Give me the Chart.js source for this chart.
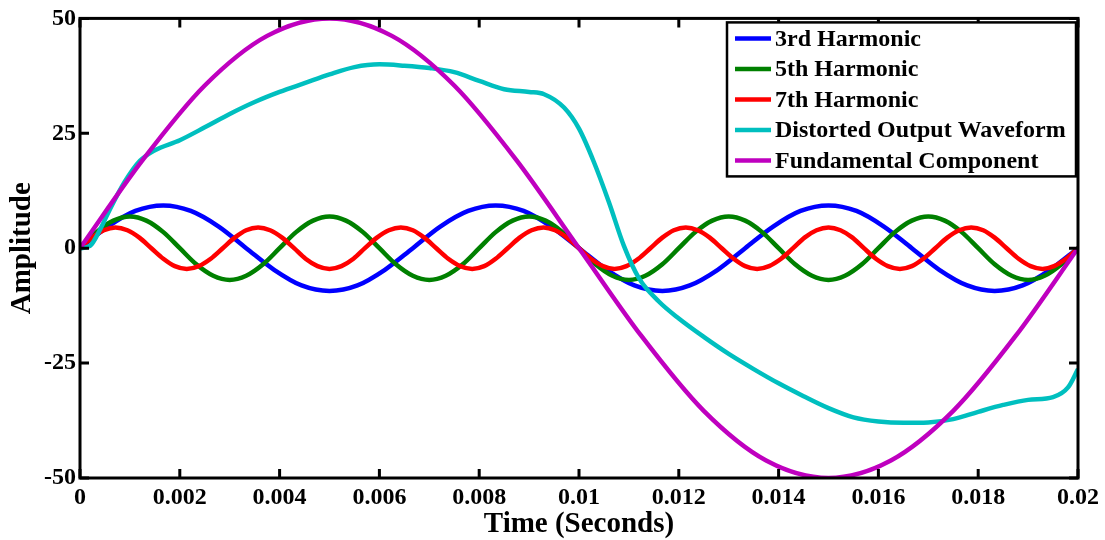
<!DOCTYPE html>
<html>
<head>
<meta charset="utf-8">
<script src="https://cdn.jsdelivr.net/npm/chart.js@4.4.1/dist/chart.umd.min.js"></script>
<style>
  body { margin: 0; background: #fff; }
  #wave { display: block; }
</style>
</head>
<body>
<canvas id="wave" width="1105" height="540"></canvas>
<script>
// values
const xTicks = [0, 0.002, 0.004, 0.006, 0.008, 0.01, 0.012, 0.014, 0.016, 0.018, 0.02];
const xTickLabels = ['0', '0.002', '0.004', '0.006', '0.008', '0.01', '0.012', '0.014', '0.016', '0.018', '0.02'];
const yTicks = [-50, -25, 0, 25, 50];
const yTickLabels = ['-50', '-25', '0', '25', '50'];

const t3 = [0,0.00056,0.00111,0.00167,0.00222,0.00278,0.00333,0.00389,0.00444,0.005,0.00556,0.00611,
  0.00667,0.00722,0.00778,0.00833,0.00889,0.00944,0.01,0.01056,0.01111,0.01167,0.01222,0.01278,
  0.01333,0.01389,0.01444,0.015,0.01556,0.01611,0.01667,0.01722,0.01778,0.01833,0.01889,0.01944,0.02];
const h3 = [0,4.7,8.1,9.3,8.1,4.7,0,-4.7,-8.1,-9.3,-8.1,-4.7,
  0,4.7,8.1,9.3,8.1,4.7,0,-4.7,-8.1,-9.3,-8.1,-4.7,
  0,4.7,8.1,9.3,8.1,4.7,0,-4.7,-8.1,-9.3,-8.1,-4.7,0];

const t5 = [0,0.00033,0.00067,0.001,0.00133,0.00167,0.002,0.00233,0.00267,0.003,0.00333,0.00367,0.004,
  0.00433,0.00467,0.005,0.00533,0.00567,0.006,0.00633,0.00667,0.007,0.00733,0.00767,0.008,
  0.00833,0.00867,0.009,0.00933,0.00967,0.01,0.01033,0.01067,0.011,0.01133,0.01167,0.012,
  0.01233,0.01267,0.013,0.01333,0.01367,0.014,0.01433,0.01467,0.015,0.01533,0.01567,0.016,
  0.01633,0.01667,0.017,0.01733,0.01767,0.018,0.01833,0.01867,0.019,0.01933,0.01967,0.02];
const h5 = [0,3.5,6.0,6.9,6.0,3.5,0,-3.5,-6.0,-6.9,-6.0,-3.5,
  0,3.5,6.0,6.9,6.0,3.5,0,-3.5,-6.0,-6.9,-6.0,-3.5,
  0,3.5,6.0,6.9,6.0,3.5,0,-3.5,-6.0,-6.9,-6.0,-3.5,
  0,3.5,6.0,6.9,6.0,3.5,0,-3.5,-6.0,-6.9,-6.0,-3.5,
  0,3.5,6.0,6.9,6.0,3.5,0,-3.5,-6.0,-6.9,-6.0,-3.5,0];

const t7 = [0,0.00024,0.00048,0.00071,0.00095,0.00119,0.00143,0.00167,0.0019,0.00214,0.00238,0.00262,
  0.00286,0.0031,0.00333,0.00357,0.00381,0.00405,0.00429,0.00452,0.00476,0.005,0.00524,0.00548,
  0.00571,0.00595,0.00619,0.00643,0.00667,0.0069,0.00714,0.00738,0.00762,0.00786,0.0081,0.00833,
  0.00857,0.00881,0.00905,0.00929,0.00952,0.00976,0.01,0.01024,0.01048,0.01071,0.01095,0.01119,
  0.01143,0.01167,0.0119,0.01214,0.01238,0.01262,0.01286,0.0131,0.01333,0.01357,0.01381,0.01405,
  0.01429,0.01452,0.01476,0.015,0.01524,0.01548,0.01571,0.01595,0.01619,0.01643,0.01667,0.0169,
  0.01714,0.01738,0.01762,0.01786,0.0181,0.01833,0.01857,0.01881,0.01905,0.01929,0.01952,0.01976,0.02];
const h7 = [0,2.3,3.9,4.5,3.9,2.3,0,-2.3,-3.9,-4.5,-3.9,-2.3,
  0,2.3,3.9,4.5,3.9,2.3,0,-2.3,-3.9,-4.5,-3.9,-2.3,
  0,2.3,3.9,4.5,3.9,2.3,0,-2.3,-3.9,-4.5,-3.9,-2.3,
  0,2.3,3.9,4.5,3.9,2.3,0,-2.3,-3.9,-4.5,-3.9,-2.3,
  0,2.3,3.9,4.5,3.9,2.3,0,-2.3,-3.9,-4.5,-3.9,-2.3,
  0,2.3,3.9,4.5,3.9,2.3,0,-2.3,-3.9,-4.5,-3.9,-2.3,
  0,2.3,3.9,4.5,3.9,2.3,0,-2.3,-3.9,-4.5,-3.9,-2.3,0];

const tDist = [0,0.0002,0.0004,0.0006,0.0009,0.0012,0.0015,0.002,0.0025,0.003,0.0035,0.004,0.0045,0.005,
  0.0055,0.006,0.0065,0.007,0.0075,0.008,0.0085,0.009,0.0093,0.0097,0.01,0.0103,0.0106,0.0109,0.0112,
  0.0116,0.012,0.0125,0.013,0.0135,0.014,0.0145,0.015,0.0155,0.016,0.0165,0.017,0.0175,0.018,0.0185,
  0.019,0.0195,0.0198,0.02];
const dist = [0,0.5,4,8.5,14.5,19,21.3,23.5,26.3,29.2,31.8,34.0,35.9,37.8,39.4,40.0,39.7,39.2,38.3,36.4,
  34.6,34.0,33.5,30.6,26,18.7,10,0.5,-6.5,-11.6,-15.3,-19.3,-23,-26.3,-29.4,-32.2,-34.8,-36.8,-37.7,
  -38,-37.9,-37.2,-35.6,-34.1,-33.0,-32.4,-30.3,-26.3];

const tFund = [0,0.00125,0.0025,0.00375,0.005,0.00625,0.0075,0.00875,0.01,0.01125,0.0125,0.01375,0.015,
  0.01625,0.0175,0.01875,0.02];
const fund = [0,19.1,35.4,46.2,50,46.2,35.4,19.1,0,-19.1,-35.4,-46.2,-50,-46.2,-35.4,-19.1,0];

const names = ['3rd Harmonic', '5th Harmonic', '7th Harmonic', 'Distorted Output Waveform', 'Fundamental Component'];
const colors = ['#0000ff', '#008000', '#ff0000', '#00bfbf', '#bf00bf'];
const series = [[t3, h3], [t5, h5], [t7, h7], [tDist, dist], [tFund, fund]];

const FONT = '"Liberation Serif", "Times New Roman", serif';

const datasets = series.map(([xs, ys], i) => ({
  label: names[i],
  data: xs.map((x, k) => ({ x: x, y: ys[k] })),
  borderColor: colors[i],
  borderWidth: 4.5,
  pointRadius: 0,
  fill: false,
  cubicInterpolationMode: 'monotone',
  order: names.length - i   // later series on top, like the reference
}));

// box, inward ticks and legend
const frame = {
  id: 'frame',
  afterDraw(chart) {
    const { ctx, chartArea: a, scales: { x, y } } = chart;
    ctx.save();
    ctx.strokeStyle = '#000';
    ctx.lineWidth = 3;
    ctx.beginPath();
    xTicks.forEach(v => {
      const px = x.getPixelForValue(v);
      ctx.moveTo(px, a.bottom); ctx.lineTo(px, a.bottom - 9);
      ctx.moveTo(px, a.top); ctx.lineTo(px, a.top + 9);
    });
    yTicks.forEach(v => {
      const py = y.getPixelForValue(v);
      ctx.moveTo(a.left, py); ctx.lineTo(a.left + 9, py);
      ctx.moveTo(a.right, py); ctx.lineTo(a.right - 9, py);
    });
    ctx.stroke();
    ctx.strokeRect(a.left, a.top, a.right - a.left, a.bottom - a.top);

    const lw = 349, lh = 154;
    const lx = a.right - lw - 2, ly = a.top + 4;
    ctx.fillStyle = '#fff';
    ctx.fillRect(lx, ly, lw, lh);
    ctx.lineWidth = 2.5;
    ctx.strokeRect(lx, ly, lw, lh);
    ctx.font = 'bold 24px ' + FONT;
    ctx.textBaseline = 'middle';
    names.forEach((n, i) => {
      const ry = ly + 16 + i * 30.5;
      ctx.strokeStyle = colors[i];
      ctx.lineWidth = 4.5;
      ctx.beginPath();
      ctx.moveTo(lx + 8, ry); ctx.lineTo(lx + 44, ry);
      ctx.stroke();
      ctx.fillStyle = '#000';
      ctx.fillText(n, lx + 48, ry + 1);
    });
    ctx.restore();
  }
};

new Chart(document.getElementById('wave'), {
  type: 'line',
  data: { datasets: datasets },
  options: {
    responsive: false,
    animation: false,
    devicePixelRatio: 1,
    layout: { padding: { left: 0, right: 27, top: 15, bottom: 0 } },
    plugins: { legend: { display: false }, tooltip: { enabled: false } },
    scales: {
      x: {
        type: 'linear',
        min: 0,
        max: 0.02,
        grid: { display: false, drawTicks: false },
        border: { display: false },
        afterBuildTicks: s => { s.ticks = xTicks.map(v => ({ value: v })); },
        afterFit: s => { s.height = 62; },
        ticks: {
          color: '#000',
          padding: 5,
          maxRotation: 0,
          autoSkip: false,
          font: { family: FONT, size: 24, weight: 'bold' },
          callback: (v, i) => xTickLabels[i]
        },
        title: {
          display: true,
          text: 'Time (Seconds)',
          color: '#000',
          padding: { top: 0, bottom: -2 },
          font: { family: FONT, size: 29, weight: 'bold' }
        }
      },
      y: {
        min: -50,
        max: 50,
        grid: { display: false, drawTicks: false },
        border: { display: false },
        afterBuildTicks: s => { s.ticks = yTicks.map(v => ({ value: v })); },
        afterFit: s => { s.width = 80; },
        ticks: {
          color: '#000',
          padding: 4,
          font: { family: FONT, size: 24, weight: 'bold' },
          callback: (v, i) => yTickLabels[i]
        },
        title: {
          display: true,
          text: 'Amplitude',
          color: '#000',
          padding: { top: 5, bottom: 0 },
          font: { family: FONT, size: 29, weight: 'bold' }
        }
      }
    }
  },
  plugins: [frame]
});
</script>
</body>
</html>
